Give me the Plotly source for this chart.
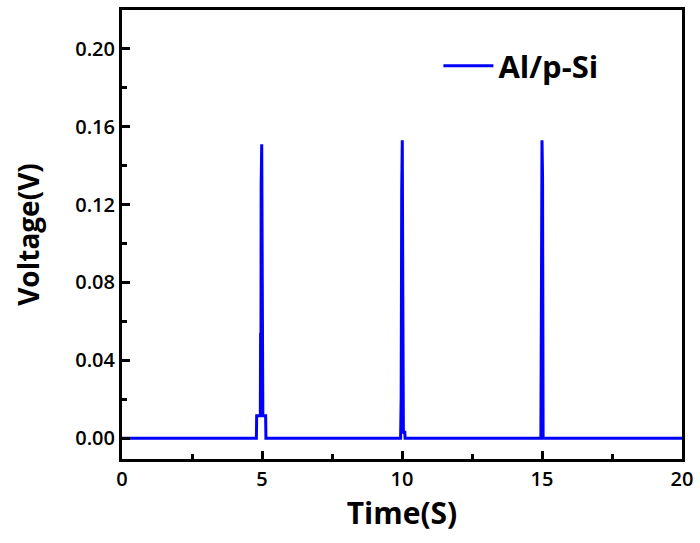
import plotly.graph_objects as go

# Data (time in s, voltage in V)
time_s = [0.0, 4.80, 4.81, 4.94, 4.95, 4.96, 4.97, 4.99, 5.01, 5.02, 5.03, 5.13, 5.14,
          9.95, 9.97, 9.99, 10.01, 10.03, 10.05, 10.10, 10.11,
          14.96, 14.98, 15.00, 15.02, 15.04, 20.0]
voltage_v = [0.0, 0.0, 0.0115, 0.0115, 0.054, 0.0115, 0.130, 0.151, 0.080, 0.0115, 0.0115, 0.0115, 0.0,
             0.0, 0.021, 0.127, 0.153, 0.071, 0.003, 0.003, 0.0,
             0.0, 0.056, 0.153, 0.134, 0.0, 0.0]
series_name = "Al/p-Si"
x_ticks = [0, 5, 10, 15, 20]
y_ticks = [0.00, 0.04, 0.08, 0.12, 0.16, 0.20]

font_family = "Open Sans, Liberation Sans, sans-serif"

fig = go.Figure()
fig.add_trace(go.Scatter(x=time_s, y=voltage_v, mode="lines", name="<b>" + series_name + "</b>",
                         line=dict(color="#0000FF", width=3)))

axis_common = dict(showline=True, linecolor="black", linewidth=3, mirror=True,
                   ticks="inside", tickcolor="black", tickwidth=2.5, ticklen=8,
                   showgrid=False, zeroline=False,
                   tickfont=dict(family=font_family, size=20, color="#000", weight=600))

fig.update_xaxes(range=[0, 20], tickvals=x_ticks, ticktext=[str(v) for v in x_ticks],
                 minor=dict(ticks="inside", ticklen=5, tickwidth=2.5, tickcolor="black",
                            dtick=2.5, tick0=0),
                 title=dict(text="<b>Time(S)</b>", font=dict(family=font_family, size=30, color="black"),
                            standoff=2),
                 **axis_common)
fig.update_yaxes(range=[-0.0107, 0.2199], tickvals=y_ticks, ticktext=[f"{v:.2f}" for v in y_ticks],
                 minor=dict(ticks="inside", ticklen=5, tickwidth=2.5, tickcolor="black",
                            dtick=0.02, tick0=0),
                 title=dict(text="<b>Voltage(V)</b>", font=dict(family=font_family, size=28, color="black"),
                            standoff=28),
                 **axis_common)

fig.update_layout(
    width=700, height=543,
    margin=dict(l=122, r=18, t=7, b=84),
    paper_bgcolor="white", plot_bgcolor="white",
    showlegend=True,
    legend=dict(x=0.565, y=0.935, xanchor="left", yanchor="top",
                bgcolor="rgba(0,0,0,0)", itemwidth=50,
                font=dict(family=font_family, size=31, color="black")),
)

fig.write_html("out.html")
